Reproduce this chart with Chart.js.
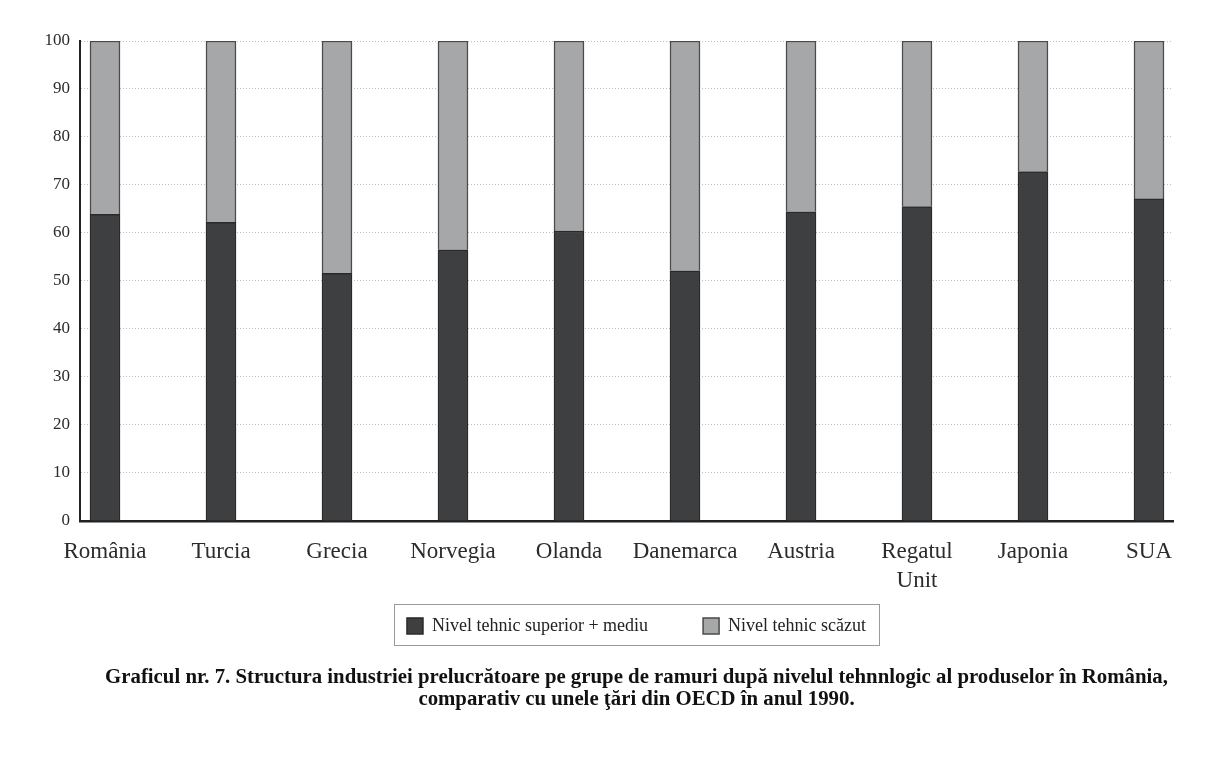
<!DOCTYPE html>
<html>
<head>
<meta charset="utf-8">
<script src="https://cdn.jsdelivr.net/npm/chart.js@4"></script>
<style>
  html, body { margin: 0; padding: 0; background: #fff; }
  #wrap { width: 1223px; height: 778px; }
</style>
</head>
<body>
<div id="wrap"><canvas id="chart"></canvas></div>
<script>
const tari = ['România', 'Turcia', 'Grecia', 'Norvegia', 'Olanda', 'Danemarca', 'Austria', ['Regatul', 'Unit'], 'Japonia', 'SUA']
const nivelSuperior = [63.9, 62.2, 51.6, 56.5, 60.4, 52.1, 64.4, 65.5, 72.8, 67.1]
const nivelScazut = [36.1, 37.8, 48.4, 43.5, 39.6, 47.9, 35.6, 34.5, 27.2, 32.9]
const yTicks = [0, 10, 20, 30, 40, 50, 60, 70, 80, 90, 100]

const serif = '"Liberation Serif", "Times New Roman", serif'

// legenda si titlul stau putin mai sus si mai la dreapta decat le pune layout-ul
const shiftBottom = {
    id: 'shiftBottom',
    afterLayout(chart) {
        for (const box of [chart.legend, chart.titleBlock]) {
            box.top -= 36
            box.bottom -= 36
            box.left += 50
            box.right += 50
        }
    }
}

// chenar in jurul legendei
const legendBox = {
    id: 'legendBox',
    afterDraw(chart) {
        const hb = chart.legend.legendHitBoxes
        if (!hb || !hb.length) return
        const ctx = chart.ctx
        const left = hb[0].left - 13
        const right = hb[hb.length - 1].left + hb[hb.length - 1].width + 13
        const top = hb[0].top - 13
        const bottom = hb[0].top + hb[0].height + 10
        ctx.save()
        ctx.strokeStyle = '#9a9a9a'
        ctx.lineWidth = 1
        ctx.strokeRect(Math.round(left) + 0.5, Math.round(top) + 0.5, Math.round(right - left), Math.round(bottom - top))
        ctx.restore()
    }
}

new Chart(document.querySelector('#chart'), {
    type: 'bar',
    data: {
        datasets: [{
            label: 'Nivel tehnic superior + mediu',
            data: nivelSuperior.map((v, i) => ({ x: i, y: v })),
            backgroundColor: '#3e3f41',
            borderColor: '#2a2a2a',
            borderWidth: 1.5,
            barThickness: 30
        }, {
            label: 'Nivel tehnic scăzut',
            data: nivelScazut.map((v, i) => ({ x: i, y: v })),
            backgroundColor: '#a5a7a9',
            borderColor: '#4a4a4a',
            borderWidth: 1.5,
            barThickness: 30
        }]
    },
    options: {
        responsive: true,
        maintainAspectRatio: false,
        animation: false,
        layout: { padding: { top: 41, right: 50, bottom: 31, left: 0 } },
        scales: {
            x: {
                type: 'linear',
                stacked: true,
                offset: false,
                min: -0.2155,
                max: 9.207,
                afterFit: s => { s.height = 77 },
                grid: { display: false, drawTicks: false, offset: false },
                border: { display: true, color: '#222', width: 2.5 },
                ticks: {
                    stepSize: 1,
                    includeBounds: false,
                    autoSkip: false,
                    maxRotation: 0,
                    padding: 17,
                    color: '#2b2b2b',
                    font: { family: serif, size: 23, lineHeight: 1.25 },
                    callback: v => tari[v] !== undefined ? tari[v] : ''
                }
            },
            y: {
                stacked: true,
                min: 0,
                max: 100,
                afterFit: s => { s.width = 80 },
                afterBuildTicks: s => { s.ticks = yTicks.map(v => ({ value: v })) },
                grid: { color: '#bdbdbd', lineWidth: 1, drawTicks: false },
                border: { display: true, color: '#222', width: 2, dash: [1, 2] },
                ticks: {
                    padding: 10,
                    color: '#2b2b2b',
                    font: { family: serif, size: 17 }
                }
            }
        },
        plugins: {
            legend: {
                position: 'bottom',
                labels: {
                    boxWidth: 16,
                    boxHeight: 16,
                    padding: 55,
                    color: '#222',
                    font: { family: serif, size: 18 }
                }
            },
            title: {
                display: true,
                position: 'bottom',
                text: ['Graficul nr. 7. Structura industriei prelucrătoare pe grupe de ramuri după nivelul tehnnlogic al produselor în România,',
                       'comparativ cu unele ţări din OECD în anul 1990.'],
                color: '#111',
                padding: { top: 22, bottom: 0 },
                font: { family: serif, size: 20.8, weight: 'bold', lineHeight: 1.06 }
            },
            tooltip: { enabled: false }
        }
    },
    plugins: [shiftBottom, legendBox]
})
</script>
</body>
</html>
